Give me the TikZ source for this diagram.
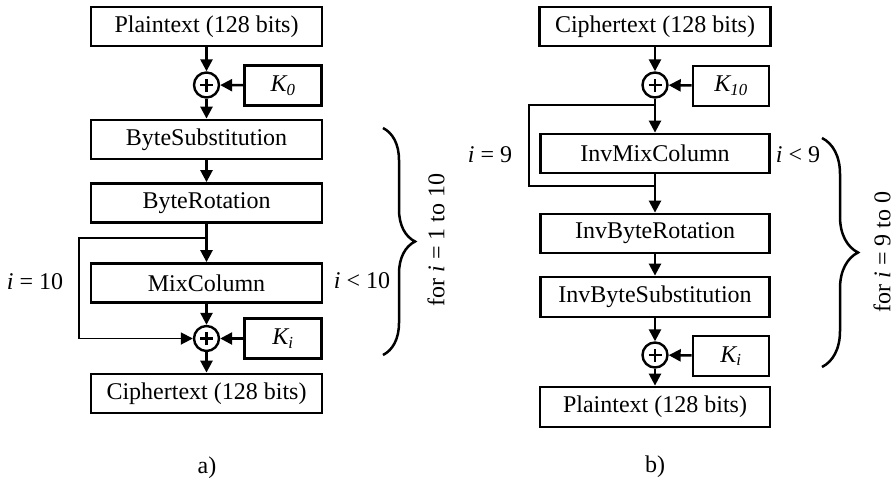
\documentclass[tikz,border=0pt]{standalone}
\usepackage{fontspec}
\setmainfont{Liberation Serif}
\usetikzlibrary{arrows.meta,decorations.pathreplacing,calc}
\begin{document}
\begin{tikzpicture}[x=1pt,y=-1pt,
  every node/.style={font=\fontsize{24}{28}\selectfont, inner sep=0pt},
  blk/.style={draw, line width=2.8pt, minimum width=231pt, minimum height=39pt},
  kbox/.style={draw, line width=2.8pt, minimum width=77pt, minimum height=40pt},
  xorn/.style={draw, circle, line width=2.4pt, minimum size=25pt,
    path picture={\draw[line width=2.2pt] ($(path picture bounding box.center)+(-6.5pt,0)$) -- ++(13pt,0)
      ($(path picture bounding box.center)+(0,-6.5pt)$) -- ++(0,13pt);}},
  arr/.style={line width=2.5pt, -{Triangle[length=12pt,width=12pt]}},
  loopline/.style={line width=1.8pt},
  loopar/.style={line width=1.8pt, -{Triangle[length=12pt,width=12pt]}},
  brc/.style={line width=2.5pt, decorate, decoration={brace, amplitude=#1}},
  lbl/.style={}
]
\useasboundingbox (0,0) rectangle (894,483);
% ---------------- (a)
\node[blk] (pt1) at (206.5,26.5) {Plaintext (128 bits)};
\node[xorn] (x1) at (206.5,85) {};
\node[kbox] (k0) at (283,85.5) {\textit{K\textsubscript{0}}};
\node[blk] (bs) at (206.5,139.5) {ByteSubstitution};
\node[blk] (br) at (206.5,203) {ByteRotation};
\node[blk] (mc) at (206.5,283) {MixColumn};
\node[xorn] (x2) at (206.5,338.5) {};
\node[kbox] (ki) at (283,338.5) {\textit{K\textsubscript{i}}};
\node[blk] (ct) at (206.5,393.5) {Ciphertext (128 bits)};
\draw[arr] (pt1) -- (x1);
\draw[arr] (k0) -- (x1);
\draw[arr] (x1) -- (bs);
\draw[arr] (bs) -- (br);
\draw[arr] (br) -- (mc);
\draw[arr] (mc) -- (x2);
\draw[arr] (ki) -- (x2);
\draw[arr] (x2) -- (ct);
\coordinate (la) at (206.5,238);
\coordinate (lac) at (79,238);
\draw[loopar] (la) -- (lac) |- (x2.west);
\node[lbl] (l1) at (35,282) {\textit{i} = 10};
\node[lbl] (l2) at (362,281) {\textit{i} < 10};
\coordinate (ba1) at (383,128);
\coordinate (ba2) at (383,355);
\draw[brc=32pt] (ba1) -- (ba2);
\node[lbl, rotate=90] (fa) at (436,240) {for \textit{i} = 1 to 10};
\node[lbl] (capa) at (207,468) {a)};
% ---------------- (b)
\node[blk] (ct2) at (655,26.5) {Ciphertext (128 bits)};
\node[xorn] (x3) at (655,85) {};
\node[kbox, minimum width=76pt] (k10) at (731,86) {\textit{K\textsubscript{10}}};
\node[blk, minimum width=229pt] (imc) at (655,153.5) {InvMixColumn};
\node[blk, minimum width=229pt] (ibr) at (655,233.5) {InvByteRotation};
\node[blk, minimum width=229pt, minimum height=40pt] (ibs) at (655,297) {InvByteSubstitution};
\node[xorn] (x4) at (655,355) {};
\node[kbox, minimum width=76pt] (ki2) at (731,356) {\textit{K\textsubscript{i}}};
\node[blk, minimum width=230pt, minimum height=40pt] (pt2) at (655,407) {Plaintext (128 bits)};
\draw[arr] (ct2) -- (x3);
\draw[arr] (k10) -- (x3);
\draw[arr] (x3) -- (imc);
\draw[arr] (imc) -- (ibr);
\draw[arr] (ibr) -- (ibs);
\draw[arr] (ibs) -- (x4);
\draw[arr] (ki2) -- (x4);
\draw[arr] (x4) -- (pt2);
\coordinate (lb1) at (655,105);
\coordinate (lb2) at (529,105);
\coordinate (lb3) at (655,186);
\draw[loopline] (lb1) -- (lb2) |- (lb3);
\node[lbl] (l3) at (490,155) {\textit{i} = 9};
\node[lbl] (l4) at (798,155) {\textit{i} < 9};
\coordinate (bb1) at (822,138);
\coordinate (bb2) at (822,367);
\draw[brc=36pt] (bb1) -- (bb2);
\node[lbl, rotate=90] (fb) at (882,252) {for \textit{i} = 9 to 0};
\node[lbl] (capb) at (655,467) {b)};
\end{tikzpicture}
\end{document}
